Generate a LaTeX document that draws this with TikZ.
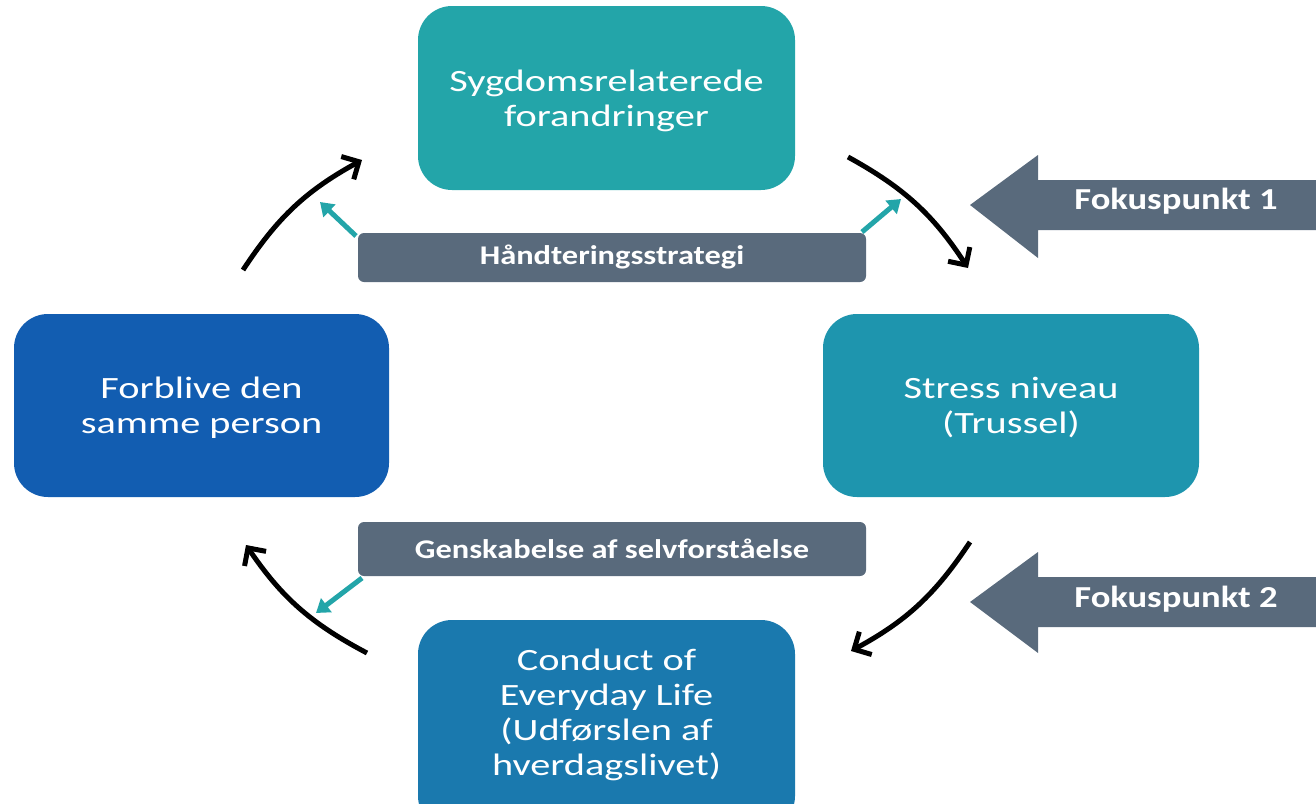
\documentclass[tikz,border=0pt]{standalone}
\usepackage{fontspec}
\setmainfont[FakeStretch=1.3,BoldFeatures={FakeStretch=1.2}]{Carlito}
\usetikzlibrary{arrows.meta}
\definecolor{cTop}{HTML}{23A5A9}
\definecolor{cLeft}{HTML}{125DB1}
\definecolor{cRight}{HTML}{1E95AE}
\definecolor{cBot}{HTML}{1A79AE}
\definecolor{cGray}{HTML}{596A7C}
\begin{document}
\begin{tikzpicture}[x=1pt,y=-1pt,
  maintext/.style={text=white, align=center, font=\fontsize{31}{35}\selectfont},
  graytext/.style={text=white, font=\bfseries\fontsize{27}{30}\selectfont},
  fokustext/.style={text=white, font=\bfseries\fontsize{30.5}{33}\selectfont},
  cyc/.style={draw=black, line width=5pt, -{Straight Barb[length=13pt,width=26pt,line width=5pt]}},
  tealarr/.style={draw=cTop, line width=5pt, -{Triangle[length=13pt,width=17pt]}}]
\useasboundingbox (0,0) rectangle (1316,803);
% main boxes
\fill[cTop, rounded corners=34pt] (418,6) rectangle (795,190);
\node[maintext] (top) at (606.5,100.5) {Sygdomsrelaterede\\forandringer};
\fill[cLeft, rounded corners=34pt] (14,314) rectangle (389,497);
\node[maintext] (left) at (201.5,407.5) {Forblive den\\samme person};
\fill[cRight, rounded corners=34pt] (823,314) rectangle (1199,497);
\node[maintext] (right) at (1011,407.5) {Stress niveau\\(Trussel)};
\fill[cBot, rounded corners=34pt] (418,620) rectangle (795,830);
\node[maintext] (bot) at (606.5,715) {Conduct of\\Everyday Life\\(Udførslen af\\hverdagslivet)};
% gray label boxes
\fill[cGray, rounded corners=6pt] (358,233) rectangle (866,282);
\node[graytext] (hs) at (612,257.5) {Håndteringsstrategi};
\fill[cGray, rounded corners=6pt] (358,522) rectangle (866,576);
\node[graytext] (gs) at (612,549) {Genskabelse af selvforståelse};
% big arrows
\fill[cGray] (970,205) -- (1038,155) -- (1038,180) -- (1316,180) -- (1316,230) -- (1038,230) -- (1038,258) -- cycle;
\node[fokustext] (f1) at (1176,201) {Fokuspunkt 1};
\fill[cGray] (970,602) -- (1038,552) -- (1038,577) -- (1316,577) -- (1316,627) -- (1038,627) -- (1038,653) -- cycle;
\node[fokustext] (f2) at (1176,599) {Fokuspunkt 2};
% cycle arrows
\coordinate (a1s) at (243,270); \coordinate (a1e) at (362,160);
\coordinate (a2s) at (848,157); \coordinate (a2e) at (968,268);
\coordinate (a3s) at (970,542); \coordinate (a3e) at (851,651);
\coordinate (a4s) at (367,653); \coordinate (a4e) at (246,545);
\draw[cyc] (a1s) to[bend left=14] (a1e);
\draw[cyc] (a2s) to[bend left=14] (a2e);
\draw[cyc] (a3s) to[bend left=14] (a3e);
\draw[cyc] (a4s) to[bend left=14] (a4e);
% teal arrows
\coordinate (t1s) at (356,236); \coordinate (t1e) at (320,202);
\coordinate (t2s) at (862,232); \coordinate (t2e) at (901,199);
\coordinate (t3s) at (362,578); \coordinate (t3e) at (316,613);
\draw[tealarr] (t1s) -- (t1e);
\draw[tealarr] (t2s) -- (t2e);
\draw[tealarr] (t3s) -- (t3e);
\end{tikzpicture}
\end{document}
